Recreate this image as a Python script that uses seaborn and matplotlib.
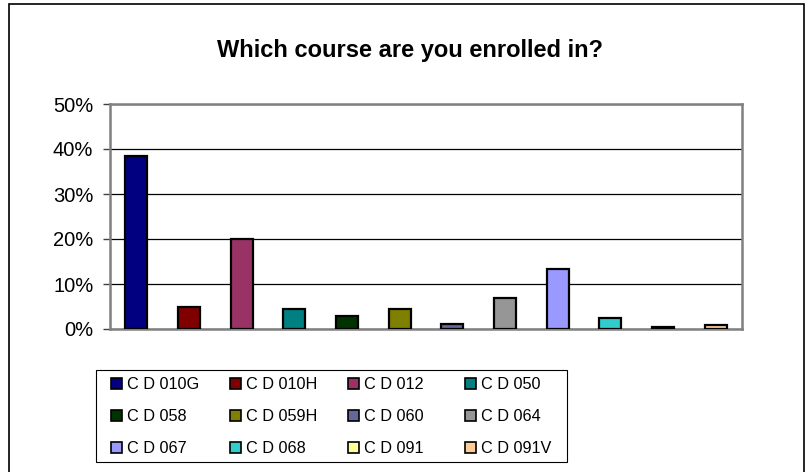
import pandas as pd
import seaborn as sns
import matplotlib.pyplot as plt
from matplotlib.patches import Patch, Rectangle
from matplotlib.ticker import PercentFormatter

courses = ['C D 010G', 'C D 010H', 'C D 012', 'C D 050', 'C D 058', 'C D 059H',
           'C D 060', 'C D 064', 'C D 067', 'C D 068', 'C D 091', 'C D 091V']
percent = [38.4, 4.8, 20.0, 4.4, 2.8, 4.4, 1.1, 6.9, 13.4, 2.4, 0.4, 0.8]
colors = ['#000080', '#800000', '#993366', '#008080', '#003300', '#808000',
          '#666699', '#969696', '#9999FF', '#33CCCC', '#FFFF99', '#FFCC99']

df = pd.DataFrame({'course': courses, 'percent': percent})
palette = dict(zip(courses, colors))

sns.set_style('white', {'text.color': 'black', 'ytick.color': 'black'})
plt.rcParams['font.family'] = ['Liberation Sans', 'DejaVu Sans']

W, H = 810, 472
fig = plt.figure(figsize=(W / 100, H / 100), dpi=100)
ax = fig.add_axes([110 / W, 1 - 329 / H, 632 / W, 225 / H])

sns.barplot(data=df, x='course', y='percent', hue='course', palette=palette,
            dodge=False, width=0.42, legend=False, edgecolor='black',
            linewidth=1.6, saturation=1, ax=ax, zorder=3)

ax.set_ylim(0, 50)
ax.set_xlim(-0.5, len(courses) - 0.5)
ax.set_yticks([0, 10, 20, 30, 40, 50])
ax.yaxis.set_major_formatter(PercentFormatter(xmax=100, decimals=0))
ax.yaxis.grid(True, color='black', linewidth=0.9, zorder=0)
ax.set_axisbelow(True)
ax.set_xlabel('')
ax.set_ylabel('')
ax.set_xticks([])
ax.tick_params(axis='y', direction='out', length=5, width=1, color='#404040',
               labelcolor='black', pad=7, labelsize=14.5, left=True)
for s in ax.spines.values():
    s.set_visible(True)
    s.set_color('#808080')
    s.set_linewidth(1.8)

fig.text(410 / W, 1 - 57 / H, 'Which course are you enrolled in?', color='black',
         ha='center', va='baseline', fontsize=17, fontweight='bold')

# legend: 4 equal-width columns, read row by row
ncol = 4
col_x = [111, 229.5, 347.5, 465]
for c in range(ncol):
    idx = list(range(c, len(courses), ncol))
    handles = [Patch(facecolor=colors[i], edgecolor='black', linewidth=1.2) for i in idx]
    leg = fig.legend(handles, [courses[i] for i in idx], loc='upper left',
                     bbox_to_anchor=(col_x[c] / W, 1 - 377 / H), frameon=False,
                     borderpad=0, fontsize=11.7, handlelength=0.7, handleheight=0.7,
                     handletextpad=0.3, labelspacing=1.05, borderaxespad=0,
                     labelcolor='black')

fig.patches.append(Rectangle((96 / W, 1 - 462 / H), 471 / W, 92 / H,
                             transform=fig.transFigure, fill=False,
                             edgecolor='black', linewidth=0.8))
fig.patches.append(Rectangle((9 / W, -0.02), 795 / W, 1 - 4 / H + 0.02,
                             transform=fig.transFigure, fill=False,
                             edgecolor='black', linewidth=1.2))

fig.savefig('out.png', dpi=100)
